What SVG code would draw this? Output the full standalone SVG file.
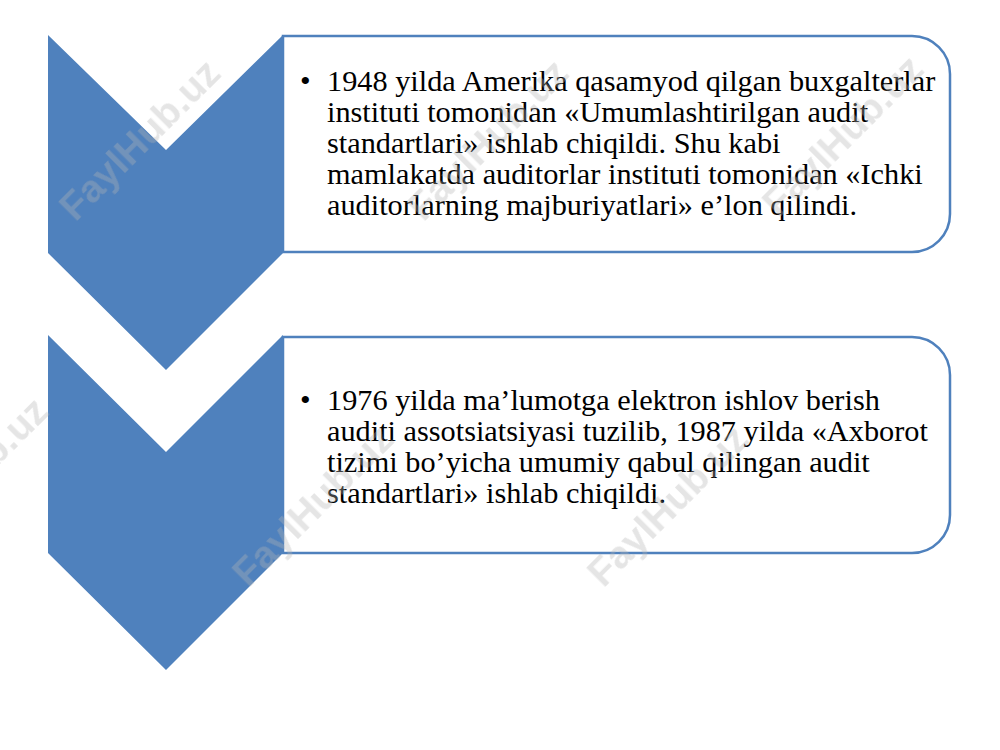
<svg xmlns="http://www.w3.org/2000/svg" width="1000" height="750" viewBox="0 0 1000 750">
<style>
.chev{fill:#4F81BD;}
.box{fill:#FFFFFF;stroke:#4F81BD;stroke-width:2.5;}
.t{font-family:"Liberation Serif","Times New Roman",serif;font-size:30.3px;fill:#000;}
.wm{font-family:"Liberation Sans",Arial,sans-serif;font-weight:bold;font-size:39px;fill:#b4b4b4;opacity:0.35;}
</style>
<rect width="1000" height="750" fill="#FFFFFF"/>
<g id="node1">
<path class="box" d="M283,36 H912 A38,38 0 0 1 950,74 V214 A38,38 0 0 1 912,252 H283 Z"/>
<path class="chev" d="M48,35 L166,150 L283,35 L283,253 L166,370 L48,253 Z"/>
<g class="t">
<text x="300" y="91">•</text>
<text x="327" y="91">1948 yilda Amerika qasamyod qilgan buxgalterlar</text>
<text x="327" y="122">instituti tomonidan «Umumlashtirilgan audit</text>
<text x="327" y="153">standartlari» ishlab chiqildi. Shu kabi</text>
<text x="327" y="184">mamlakatda auditorlar instituti tomonidan «Ichki</text>
<text x="327" y="215">auditorlarning majburiyatlari» e’lon qilindi.</text>
</g>
</g>
<g id="node2">
<path class="box" d="M283,337 H912 A38,38 0 0 1 950,375 V515 A38,38 0 0 1 912,553 H283 Z"/>
<path class="chev" d="M48,335 L166,452 L283,335 L283,553 L166,670 L48,553 Z"/>
<g class="t">
<text x="300" y="410">•</text>
<text x="327" y="410">1976 yilda ma’lumotga elektron ishlov berish</text>
<text x="327" y="441">auditi assotsiatsiyasi tuzilib, 1987 yilda «Axborot</text>
<text x="327" y="472">tizimi bo’yicha umumiy qabul qilingan audit</text>
<text x="327" y="503">standartlari» ishlab chiqildi.</text>
</g>
</g>
<g id="connectors"></g>
<g id="watermarks" class="wm">
<text transform="translate(142,142) rotate(-45)" text-anchor="middle" dominant-baseline="middle">FaylHub.uz</text>
<text transform="translate(490,142) rotate(-45)" text-anchor="middle" dominant-baseline="middle">FaylHub.uz</text>
<text transform="translate(845,138) rotate(-45)" text-anchor="middle" dominant-baseline="middle">FaylHub.uz</text>
<text transform="translate(-30,480) rotate(-45)" text-anchor="middle" dominant-baseline="middle">FaylHub.uz</text>
<text transform="translate(315,508) rotate(-45)" text-anchor="middle" dominant-baseline="middle">FaylHub.uz</text>
<text transform="translate(670,508) rotate(-45)" text-anchor="middle" dominant-baseline="middle">FaylHub.uz</text>
</g>
</svg>
